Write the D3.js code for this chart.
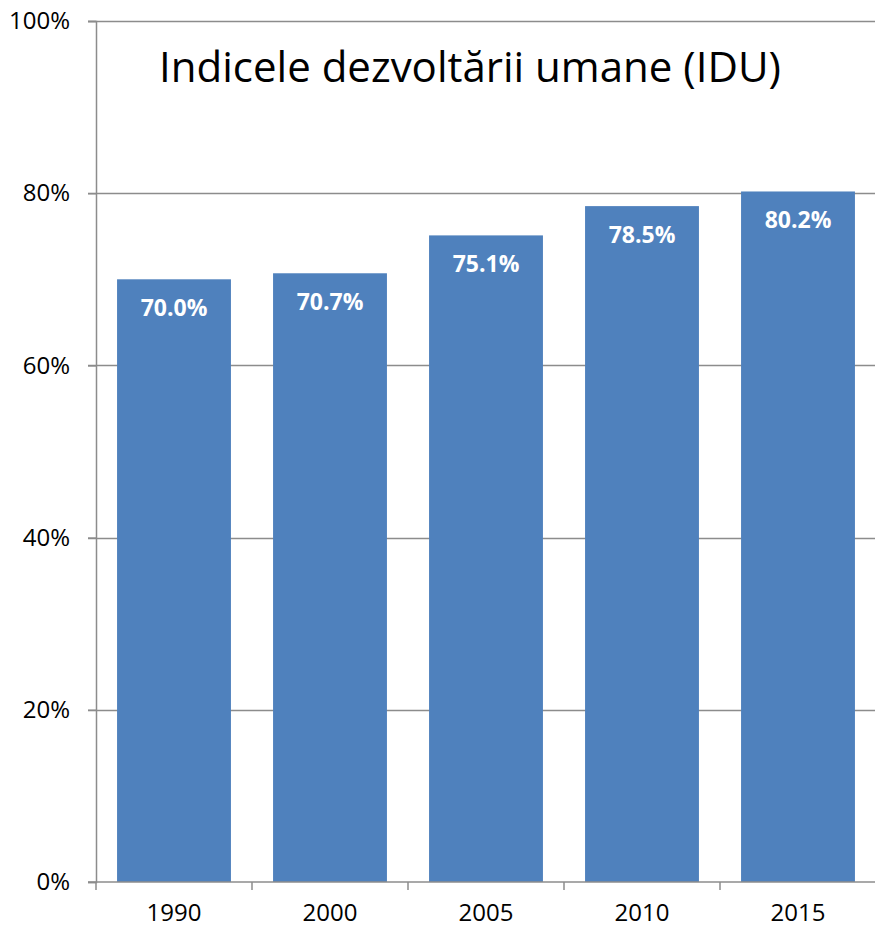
<!DOCTYPE html>
<html>
<head>
<meta charset="utf-8">
<script src="https://cdn.jsdelivr.net/npm/d3@7"></script>
<style>
  body { margin: 0; background: #fff; }
  svg text { font-family: "Open Sans", "Noto Sans", sans-serif; }
</style>
</head>
<body>
<script>
const years = ["1990", "2000", "2005", "2010", "2015"];
const values = [0.700, 0.707, 0.751, 0.785, 0.802];
const yTicks = [0, 0.2, 0.4, 0.6, 0.8, 1.0];
const title = "Indicele dezvoltării umane (IDU)";

const width = 875;
const height = 928;
const margin = { top: 21, right: -1, bottom: 46, left: 96 };

const svg = d3.select("body")
    .append("svg")
    .attr("width", width)
    .attr("height", height);

const x = d3.scaleBand()
    .domain(years)
    .range([margin.left, width - margin.right])
    .paddingInner(0.27)
    .paddingOuter(0.135);

const y = d3.scaleLinear()
    .domain([0, 1])
    .range([height - margin.bottom, margin.top]);

// gridlines
svg.append("g")
    .selectAll("line")
    .data(yTicks.filter(d => d > 0))
    .enter().append("line")
    .attr("x1", margin.left - 8)
    .attr("x2", width)
    .attr("y1", d => Math.round(y(d)) + 0.5)
    .attr("y2", d => Math.round(y(d)) + 0.5)
    .attr("stroke", "#8c8c8c")
    .attr("stroke-width", 1.5);

// bars
svg.append("g")
    .selectAll("rect")
    .data(values)
    .enter().append("rect")
    .attr("x", (d, i) => x(years[i]))
    .attr("y", d => y(d))
    .attr("width", x.bandwidth())
    .attr("height", d => y(0) - y(d))
    .attr("fill", "#4f81bd");

// value labels
svg.append("g")
    .selectAll("text")
    .data(values)
    .enter().append("text")
    .attr("x", (d, i) => x(years[i]) + x.bandwidth() / 2)
    .attr("y", d => y(d) + 37)
    .attr("text-anchor", "middle")
    .attr("fill", "#fff")
    .attr("font-weight", "bold")
    .attr("font-size", 23)
    .text(d => (d * 100).toFixed(1) + "%");

// y axis
const yAxis = d3.axisLeft(y)
    .tickValues(yTicks)
    .tickFormat(d3.format(".0%"))
    .tickSize(8)
    .tickPadding(18);

svg.append("g")
    .attr("transform", `translate(${margin.left},0)`)
    .call(yAxis)
    .call(g => g.select(".domain").attr("stroke", "#8c8c8c").attr("stroke-width", 1.5))
    .call(g => g.selectAll(".tick line").attr("stroke", "#8c8c8c").attr("stroke-width", 1.5))
    .call(g => g.selectAll(".tick text")
        .attr("font-size", 24)
        .attr("fill", "#000")
        .attr("font-family", "'Open Sans', 'Noto Sans', sans-serif"));

// x axis, ticks sit between the categories
const xAxisG = svg.append("g")
    .attr("transform", `translate(0,${y(0)})`);

xAxisG.append("line")
    .attr("x1", margin.left - 8)
    .attr("x2", width)
    .attr("stroke", "#8c8c8c")
    .attr("stroke-width", 1.5);

const step = x.step();
const boundaries = years.map((d, i) => margin.left + i * step).concat([margin.left + years.length * step]);
xAxisG.selectAll("line.tk")
    .data(boundaries)
    .enter().append("line")
    .attr("class", "tk")
    .attr("x1", d => d)
    .attr("x2", d => d)
    .attr("y1", 0)
    .attr("y2", 8)
    .attr("stroke", "#8c8c8c")
    .attr("stroke-width", 1.5);

xAxisG.selectAll("text")
    .data(years)
    .enter().append("text")
    .attr("x", d => x(d) + x.bandwidth() / 2)
    .attr("y", 39)
    .attr("text-anchor", "middle")
    .attr("font-size", 24)
    .attr("fill", "#000")
    .text(d => d);

// title
svg.append("text")
    .attr("x", 470)
    .attr("y", 82)
    .attr("text-anchor", "middle")
    .attr("font-size", 42)
    .attr("fill", "#000")
    .text(title);
</script>
</body>
</html>
